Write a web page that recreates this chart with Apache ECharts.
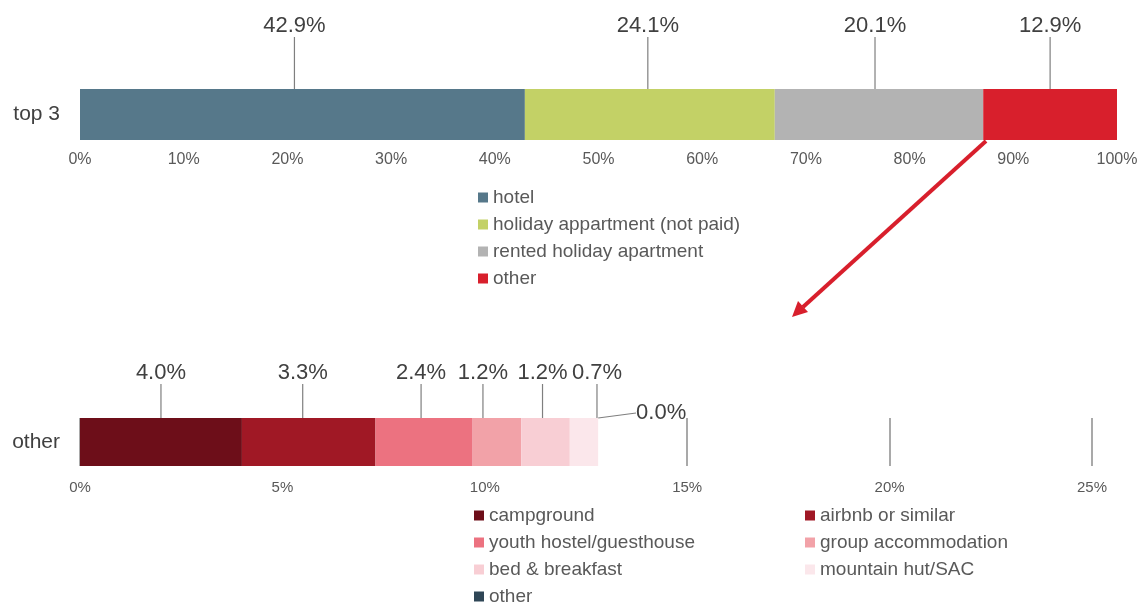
<!DOCTYPE html>
<html>
<head>
<meta charset="utf-8">
<script src="https://cdn.jsdelivr.net/npm/echarts@6/dist/echarts.min.js"></script>
<style>
  html, body { margin: 0; padding: 0; background: #fff; }
  #chart { width: 1148px; height: 606px; }
</style>
</head>
<body>
<div id="chart"></div>
<script>
// top chart: main accommodation types
const topCategory = ['top 3']
const topNames = ['hotel', 'holiday appartment (not paid)', 'rented holiday apartment', 'other']
const topValues = [42.9, 24.1, 20.1, 12.9]
const topColors = ['#56788a', '#c3d166', '#b3b3b3', '#d81f2c']
const topTicks = [0, 10, 20, 30, 40, 50, 60, 70, 80, 90, 100]

// bottom chart: breakdown of "other"
const otherCategory = ['other']
const otherNames = ['campground', 'airbnb or similar', 'youth hostel/guesthouse', 'group accommodation', 'bed & breakfast', 'mountain hut/SAC', 'other ']
const otherValues = [4.0, 3.3, 2.4, 1.2, 1.2, 0.7, 0.0]
const otherColors = ['#6d0e19', '#a01825', '#ec7280', '#f2a2a8', '#f8ced4', '#fbe7eb', '#2f4656']
const otherTicks = [0, 5, 10, 15, 20, 25]

// label shifts so the small ones don't overlap
const topShift = [[-8, -47], [-2, -47], [-4, -47], [0, -47]]
const otherShift = [[0, -29], [-6, -29], [-3, -29], [-14, -29], [-3, -29], [13, -29], [63, 11]]

const textDark = '#404040'
const textGray = '#595959'
const font = 'Liberation Sans, Arial, sans-serif'

const chart = echarts.init(document.getElementById('chart'))

function makeSeries(names, values, colors, shift, axisIdx) {
    return names.map((n, i) => ({
        name: n,
        type: 'bar',
        stack: 'stack' + axisIdx,
        xAxisIndex: axisIdx,
        yAxisIndex: axisIdx,
        barWidth: '100%',
        data: [values[i]],
        itemStyle: { color: colors[i] },
        label: {
            show: true,
            position: 'top',
            distance: 5,
            fontSize: 22,
            fontFamily: font,
            color: textDark,
            formatter: p => p.value.toFixed(1) + '%'
        },
        labelLayout: { dx: shift[i][0], dy: shift[i][1] },
        labelLine: { show: true, lineStyle: { color: '#7f7f7f', width: 1.2 } }
    }))
}

const legendText = { fontSize: 19, fontFamily: font, color: textGray }
const legendBase = {
    orient: 'vertical', icon: 'rect', itemWidth: 10, itemHeight: 10, itemGap: 8,
    padding: 0, height: 130, textStyle: legendText
}

const option = {
    animation: false,
    backgroundColor: '#fff',
    grid: [
        { left: 80, right: 31, top: 89, height: 51 },
        { left: 80, width: 1012, top: 418, height: 48 }
    ],
    xAxis: [
        {
            gridIndex: 0, type: 'value', min: 0, max: 100, interval: 10,
            axisLine: { show: false }, axisTick: { show: false }, splitLine: { show: false },
            axisLabel: { fontSize: 16, fontFamily: font, color: textGray, margin: 12,
                formatter: v => topTicks.includes(v) ? v + '%' : '' }
        },
        {
            gridIndex: 1, type: 'value', min: 0, max: 25, interval: 5,
            axisLine: { show: false }, axisTick: { show: false },
            splitLine: { show: true, lineStyle: { color: '#8c8c8c', width: 1.5 } },
            axisLabel: { fontSize: 15, fontFamily: font, color: textGray, margin: 14,
                formatter: v => otherTicks.includes(v) ? v + '%' : '' }
        }
    ],
    yAxis: [
        {
            gridIndex: 0, type: 'category', data: topCategory,
            axisLine: { show: false }, axisTick: { show: false },
            axisLabel: { fontSize: 21, fontFamily: font, color: textDark, margin: 20 }
        },
        {
            gridIndex: 1, type: 'category', data: otherCategory,
            axisLine: { show: false }, axisTick: { show: false },
            axisLabel: { fontSize: 21, fontFamily: font, color: textDark, margin: 20 }
        }
    ],
    legend: [
        { ...legendBase, left: 478, top: 188, data: topNames },
        {
            ...legendBase, left: 474, top: 506,
            data: [otherNames[0], otherNames[2], otherNames[4], otherNames[6]],
            formatter: n => n.trim()
        },
        {
            ...legendBase, left: 805, top: 506,
            data: [otherNames[1], otherNames[3], otherNames[5]]
        }
    ],
    series: [
        ...makeSeries(topNames, topValues, topColors, topShift, 0),
        ...makeSeries(otherNames, otherValues, otherColors, otherShift, 1)
    ],
    graphic: [
        {
            type: 'line',
            shape: { x1: 986, y1: 141, x2: 803, y2: 307 },
            style: { stroke: '#d81f2c', lineWidth: 4 }
        },
        {
            type: 'polygon',
            shape: { points: [[792, 317], [808, 312], [798, 301]] },
            style: { fill: '#d81f2c' }
        }
    ]
}

chart.setOption(option)
</script>
</body>
</html>
